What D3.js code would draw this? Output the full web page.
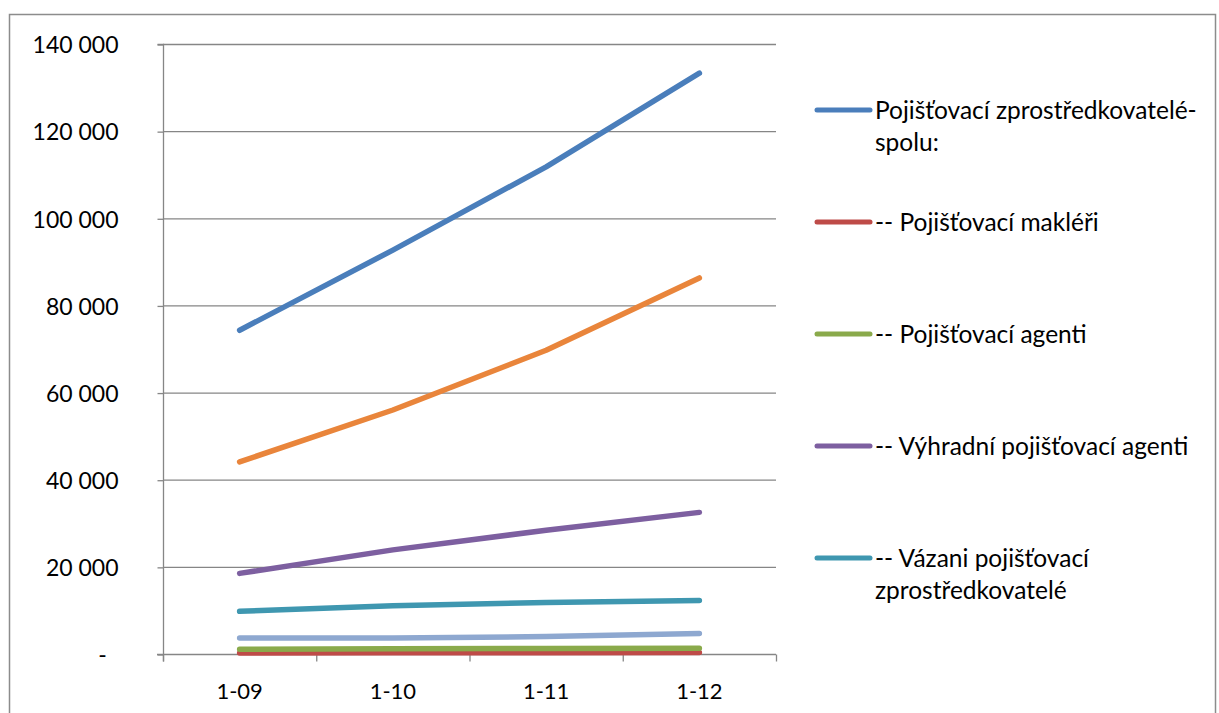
<!DOCTYPE html>
<html><head><meta charset="utf-8">
<script src="https://cdn.jsdelivr.net/npm/d3@7"></script>
<style>body{margin:0;background:#fff}svg{display:block}text{font-family:Lato,"Open Sans",sans-serif;fill:#000}</style>
</head><body><svg id="c" width="1219" height="713"></svg>
<script>
const categories = ["1-09","1-10","1-11","1-12"];
const yTicks = [0,20000,40000,60000,80000,100000,120000,140000];
const spolu = [74300, 92700, 111800, 133300];
const orangeSeries = [44100, 56000, 69700, 86300];
const vyhradni = [18500, 23900, 28400, 32500];
const vazani = [9800, 11100, 11800, 12300];
const lightBlueSeries = [3700, 3700, 4000, 4700];
const agenti = [1100, 1200, 1250, 1300];
const makleri = [250, 280, 300, 320];

const series = [
  {name:"Pojišťovací zprostředkovatelé-|spolu:", values:spolu, color:"#4a7ebb", legend:true},
  {name:"-- Pojišťovací makléři", values:makleri, color:"#be4b48", legend:true},
  {name:"-- Pojišťovací agenti", values:agenti, color:"#8aaa4b", legend:true},
  {name:"-- Výhradní pojišťovací agenti", values:vyhradni, color:"#7d5fa0", legend:true},
  {name:"-- Vázani pojišťovací|zprostředkovatelé", values:vazani, color:"#3f97b0", legend:true},
  {name:"orange", values:orangeSeries, color:"#e9853b", legend:false},
  {name:"lightblue", values:lightBlueSeries, color:"#8ea8d0", legend:false}
];
const drawOrder = [6,1,2,4,3,5,0];

const svg = d3.select("#c");
svg.append("rect").attr("x",9.5).attr("y",14.5).attr("width",1206).attr("height",710)
  .attr("fill","none").attr("stroke","#8c8c8c").attr("stroke-width",1.5);

const x = d3.scaleBand().domain(categories).range([163,776]).paddingInner(0).paddingOuter(0);
const y = d3.scaleLinear().domain([0,140000]).range([654,44]);

svg.append("g").selectAll("line").data(yTicks.slice(1)).join("line")
  .attr("x1",163).attr("x2",776).attr("y1",d=>y(d)+0.5).attr("y2",d=>y(d)+0.5)
  .attr("stroke","#868686").attr("stroke-width",1.3);

const fmt = d => d===0 ? "-\u00a0\u00a0" : d3.format(",")(d).replace(/,/g," ");
const yAxis = d3.axisLeft(y).tickValues(yTicks).tickSize(6).tickPadding(39).tickFormat(fmt);
const gy = svg.append("g").attr("transform","translate(163.5,0.5)").call(yAxis);
gy.select(".domain").attr("stroke","#868686").attr("stroke-width",1.3).attr("d","M-6,"+(y(140000))+"H0V661");
gy.selectAll(".tick line").attr("stroke","#868686").attr("stroke-width",1.3);
gy.selectAll(".tick text").attr("font-size",23).attr("font-family","Lato,'Open Sans',sans-serif").attr("fill","#000").attr("dy","0.36em");

const gx = svg.append("g").attr("transform","translate(0,654.5)");
gx.append("line").attr("x1",157).attr("x2",776).attr("stroke","#868686").attr("stroke-width",1.3);
const edges = categories.map(c=>x(c)).concat([x.range()[1]]);
gx.selectAll("line.t").data(edges).join("line").attr("class","t")
  .attr("x1",d=>d+0.5).attr("x2",d=>d+0.5).attr("y1",0).attr("y2",7)
  .attr("stroke","#868686").attr("stroke-width",1.3);
gx.selectAll("text").data(categories).join("text")
  .attr("x",d=>x(d)+x.bandwidth()/2).attr("y",44).attr("text-anchor","middle")
  .attr("font-size",22).text(d=>d);

const line = d3.line().x((d,i)=>x(categories[i])+x.bandwidth()/2).y(d=>y(d));
svg.append("g").selectAll("path").data(drawOrder.map(i=>series[i])).join("path")
  .attr("d",d=>line(d.values)).attr("fill","none").attr("stroke",d=>d.color)
  .attr("stroke-width",5.5).attr("stroke-linecap","round").attr("stroke-linejoin","round");

const leg = series.filter(s=>s.legend);
const lg = svg.append("g").selectAll("g").data(leg).join("g")
  .attr("transform",(d,i)=>`translate(817,${110+i*112})`);
lg.append("line").attr("x1",0).attr("x2",53).attr("stroke",d=>d.color).attr("stroke-width",5).attr("stroke-linecap","round");
lg.each(function(d){
  const parts = d.name.split("|");
  const t = d3.select(this).append("text").attr("x",58).attr("y",0).attr("font-size",24.5);
  parts.forEach((p,j)=>t.append("tspan").attr("x",58).attr("dy", j===0?"0.36em":"32").text(p));
});
</script></body></html>
